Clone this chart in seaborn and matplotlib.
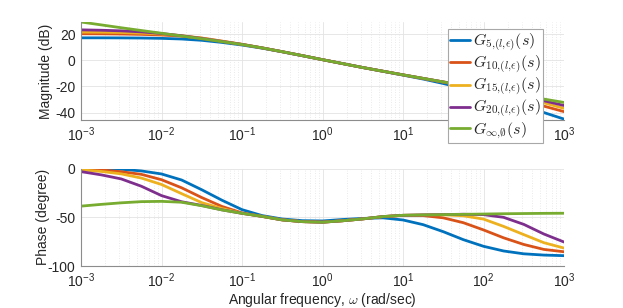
import numpy as np
import pandas as pd
import matplotlib
matplotlib.use('Agg')
import matplotlib.pyplot as plt
import seaborn as sns
from matplotlib.ticker import FixedLocator, FuncFormatter, LogLocator, NullFormatter
from matplotlib.lines import Line2D

sns.set_theme(style='white')
plt.rcParams['font.family'] = ['Liberation Sans', 'DejaVu Sans']
plt.rcParams['mathtext.fontset'] = 'cm'
plt.rcParams['axes.unicode_minus'] = False

# ---------------- data ----------------
w_exp = [-3, -2.75, -2.5, -2.25, -2, -1.75, -1.5, -1.25, -1, -0.75, -0.5, -0.25,
         0, 0.25, 0.5, 0.75, 1, 1.25, 1.5, 1.75, 2, 2.25, 2.5, 2.75, 3]

series_labels = [r'$G_{5{,}(l{,}\epsilon)}(s)$', r'$G_{10{,}(l{,}\epsilon)}(s)$',
                 r'$G_{15{,}(l{,}\epsilon)}(s)$', r'$G_{20{,}(l{,}\epsilon)}(s)$',
                 r'$G_{\infty{,}\emptyset}(s)$']

mag_5 = [17.1, 17.1, 17.05, 16.95, 16.7, 16.2, 15.2, 13.6, 11.6, 9.2, 6.4, 3.4,
         0.4, -2.6, -5.6, -8.5, -11.4, -14.4, -17.8, -21.6, -25.8, -30.3, -35.1, -40.0, -45.0]
mag_10 = [20.2, 20.15, 20.0, 19.75, 19.25, 18.4, 16.9, 14.6, 12.15, 9.45, 6.5, 3.5,
          0.4, -2.6, -5.6, -8.4, -11.2, -13.95, -16.7, -19.6, -22.9, -26.6, -30.8, -35.1, -39.3]
mag_15 = [21.5, 21.4, 21.15, 20.7, 20.0, 18.8, 16.9, 14.5, 12.1, 9.4, 6.5, 3.5,
          0.4, -2.6, -5.6, -8.4, -11.2, -13.9, -16.6, -19.3, -22.1, -25.2, -28.7, -32.6, -36.8]
mag_20 = [23.2, 22.9, 22.45, 21.65, 20.4, 18.7, 16.6, 14.3, 12.05, 9.4, 6.5, 3.5,
          0.4, -2.6, -5.6, -8.4, -11.2, -13.9, -16.6, -19.3, -21.9, -24.6, -27.6, -31.0, -34.6]
mag_inf = [29.2, 27.0, 24.8, 22.7, 20.6, 18.5, 16.4, 14.2, 12.0, 9.4, 6.5, 3.5,
           0.4, -2.6, -5.6, -8.4, -11.2, -13.9, -16.6, -19.3, -21.9, -24.5, -27.1, -29.7, -32.3]

ph_5 = [-0.2, -0.3, -0.8, -2.5, -5.6, -11.8, -21.8, -32.5, -42.2, -48.3, -51.8, -53.5,
        -53.8, -52.3, -51.2, -50.6, -52.8, -57.6, -64.8, -73.0, -79.8, -84.6, -87.5, -88.8, -89.4]
ph_10 = [-0.6, -1.5, -3.3, -6.0, -11.5, -19.8, -29.8, -38.9, -45.5, -49.2, -52.7, -54.5,
         -55.0, -53.6, -51.7, -49.4, -48.1, -48.3, -50.6, -55.6, -63.0, -71.1, -77.9, -83.0, -85.4]
ph_15 = [-1.4, -3.0, -5.5, -9.8, -16.4, -25.8, -35.0, -41.0, -46.0, -49.1, -52.7, -54.5,
         -55.1, -53.6, -51.7, -49.3, -48.0, -47.6, -47.5, -48.5, -51.9, -59.4, -67.8, -76.1, -81.6]
ph_20 = [-3.2, -6.5, -10.7, -18.2, -27.8, -34.1, -37.9, -42.4, -46.0, -49.1, -52.7, -54.5,
         -55.1, -53.6, -51.7, -49.3, -48.0, -47.6, -47.3, -46.9, -47.3, -50.1, -57.3, -67.2, -75.4]
ph_inf = [-38.6, -36.8, -35.2, -34.0, -33.7, -34.6, -38.2, -42.5, -46.0, -49.1, -52.7, -54.5,
          -55.1, -53.6, -51.7, -49.3, -48.0, -47.6, -47.3, -47.0, -46.7, -46.4, -46.2, -46.0, -45.9]

mags = [mag_5, mag_10, mag_15, mag_20, mag_inf]
phases = [ph_5, ph_10, ph_15, ph_20, ph_inf]
colors = ['#0072BD', '#D95319', '#EDB120', '#7E2F8E', '#77AC30']

freq = 10.0 ** np.array(w_exp)
frames = []
for lab, m, p in zip(series_labels, mags, phases):
    frames.append(pd.DataFrame({'w': freq, 'mag': m, 'phase': p, 'series': lab}))
df = pd.concat(frames, ignore_index=True)

# ---------------- figure ----------------
W, H = 623, 308
fig = plt.figure(figsize=(W / 100, H / 100), dpi=100)
ax1 = fig.add_axes([81 / W, 1 - 120 / H, 483 / W, 98 / H])
ax2 = fig.add_axes([81 / W, 1 - 266 / H, 483 / W, 97.5 / H])

for ax, col in ((ax1, 'mag'), (ax2, 'phase')):
    ax.set_xscale('log')
    sns.lineplot(data=df, x='w', y=col, hue='series', hue_order=series_labels,
                 palette=colors, ax=ax, lw=2.0, legend=False, sort=False,
                 estimator=None)
    ax.set_xlim(1e-3, 1e3)
    ax.xaxis.set_major_locator(FixedLocator(10.0 ** np.arange(-3, 4)))
    ax.xaxis.set_major_formatter(FuncFormatter(
        lambda v, p: r'$\mathregular{10^{%d}}$' % int(round(np.log10(v)))))
    ax.xaxis.set_minor_locator(LogLocator(base=10, subs=np.arange(2, 10), numticks=30))
    ax.xaxis.set_minor_formatter(NullFormatter())
    ax.grid(True, which='major', color='#e3e3e3', lw=0.6)
    ax.grid(True, which='minor', axis='x', color='#e3e3e3', lw=0.6, ls=(0, (1, 2)))
    ax.set_axisbelow(True)
    for s in ('top', 'right'):
        ax.spines[s].set_visible(False)
    for s in ('left', 'bottom'):
        ax.spines[s].set_color('#8c8c8c')
        ax.spines[s].set_linewidth(0.8)
    ax.tick_params(which='major', direction='in', length=4, width=0.6, color='#8c8c8c',
                   labelsize=10, labelcolor='#262626', pad=4)
    ax.tick_params(which='minor', direction='in', length=2, width=0.5, color='#8c8c8c')
    ax.tick_params(axis='x', which='major', pad=4)
    ax.set_xlabel('')

ax1.set_ylim(-45.7, 29.2)
ax1.set_yticks([-40, -20, 0, 20])
ax1.set_ylabel('Magnitude (dB)', fontsize=10, color='#262626')
ax1.yaxis.set_label_coords(-0.058, 0.5)

ax2.set_ylim(-100, 0)
ax2.set_yticks([-100, -50, 0])
ax2.set_ylabel('Phase (degree)', fontsize=10, color='#262626')
ax2.yaxis.set_label_coords(-0.064, 0.5)
ax2.set_xlabel(r'Angular frequency, $\omega$ (rad/sec)', fontsize=10, color='#262626')
ax2.xaxis.set_label_coords(0.5, -0.255)

handles = [Line2D([0], [0], color=c, lw=2.0) for c in colors]
leg = fig.legend(handles, series_labels, loc='upper left',
                 bbox_to_anchor=(448 / W, 1 - 29 / H), fontsize=11.5,
                 frameon=True, fancybox=False, edgecolor='#a8a8a8', framealpha=1,
                 borderpad=0.15, labelspacing=0.0, handlelength=1.2,
                 handletextpad=0.2, borderaxespad=0)
leg.get_frame().set_linewidth(0.8)
leg.set_zorder(10)

fig.savefig('out.png', dpi=100)
